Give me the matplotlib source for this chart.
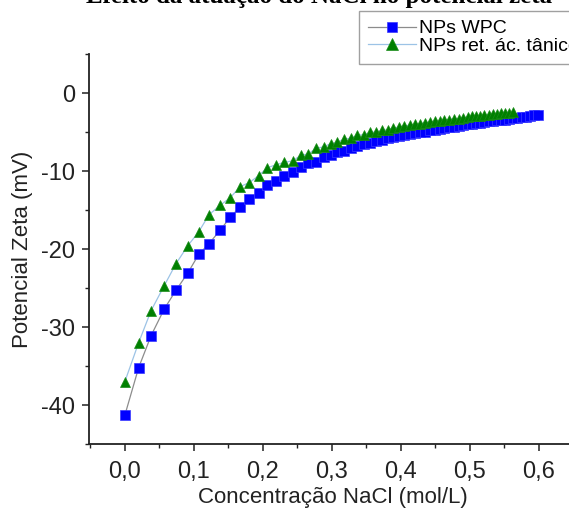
import matplotlib
matplotlib.use("Agg")
import matplotlib.pyplot as plt
from matplotlib.ticker import MultipleLocator

plt.rcParams['font.family'] = ['Liberation Sans', 'DejaVu Sans']

# ---- data ----
x_wpc = [0.000, 0.020, 0.038, 0.057, 0.074, 0.091, 0.107, 0.122, 0.138, 0.153,
         0.167, 0.180, 0.194, 0.206, 0.219, 0.231, 0.243, 0.255, 0.266, 0.277,
         0.288, 0.298, 0.308, 0.318, 0.328, 0.337, 0.346, 0.355, 0.364, 0.373,
         0.381, 0.389, 0.397, 0.405, 0.413, 0.421, 0.428, 0.435, 0.442, 0.449,
         0.456, 0.463, 0.470, 0.477, 0.484, 0.490, 0.497, 0.503, 0.509, 0.515,
         0.521, 0.527, 0.533, 0.539, 0.545, 0.551, 0.557, 0.563, 0.569, 0.575,
         0.581, 0.587, 0.593, 0.599]
y_wpc = [-41.3, -35.2, -31.1, -27.7, -25.3, -23.1, -20.7, -19.3, -17.6, -15.9,
         -14.6, -13.6, -12.8, -11.8, -11.3, -10.6, -10.1, -9.5, -9.0, -8.8,
         -8.2, -8.0, -7.5, -7.4, -7.0, -6.8, -6.5, -6.4, -6.1, -6.05,
         -5.8, -5.7, -5.5, -5.4, -5.2, -5.15, -5.0, -4.95, -4.8, -4.75,
         -4.6, -4.55, -4.4, -4.35, -4.2, -4.15, -4.0, -3.95, -3.85, -3.8,
         -3.7, -3.65, -3.55, -3.5, -3.45, -3.4, -3.3, -3.25, -3.2, -3.1,
         -3.05, -2.95, -2.85, -2.8]

x_tan = [0.000, 0.020, 0.038, 0.057, 0.074, 0.091, 0.107, 0.122, 0.138, 0.153,
         0.167, 0.180, 0.194, 0.206, 0.219, 0.231, 0.243, 0.255, 0.266, 0.277,
         0.288, 0.298, 0.308, 0.318, 0.328, 0.337, 0.346, 0.355, 0.364, 0.373,
         0.381, 0.389, 0.397, 0.405, 0.413, 0.421, 0.428, 0.435, 0.442, 0.449,
         0.456, 0.463, 0.470, 0.477, 0.484, 0.490, 0.497, 0.503, 0.509, 0.515,
         0.521, 0.527, 0.533, 0.539, 0.545, 0.551, 0.557, 0.563]
y_tan = [-37.0, -32.0, -27.9, -24.7, -21.9, -19.6, -17.8, -15.6, -14.4, -13.4,
         -12.0, -11.5, -10.6, -9.6, -9.2, -8.9, -8.7, -8.0, -7.8, -7.1,
         -6.9, -6.5, -6.3, -5.9, -5.8, -5.4, -5.35, -5.05, -5.0, -4.8,
         -4.7, -4.45, -4.4, -4.2, -4.15, -4.0, -3.95, -3.8, -3.75, -3.65,
         -3.6, -3.45, -3.4, -3.3, -3.3, -3.15, -3.1, -3.0, -2.95, -2.9,
         -2.85, -2.8, -2.7, -2.65, -2.6, -2.55, -2.5, -2.45]

xticks = [0.0, 0.1, 0.2, 0.3, 0.4, 0.5, 0.6]
xtick_labels = ["0,0", "0,1", "0,2", "0,3", "0,4", "0,5", "0,6"]
yticks = [0, -10, -20, -30, -40]
ytick_labels = ["0", "-10", "-20", "-30", "-40"]

label_wpc = "NPs WPC"
label_tan = "NPs ret. ác. tânico"
xlabel = "Concentração NaCl (mol/L)"
ylabel = "Potencial Zeta (mV)"
title_text = "Efeito da atuação do NaCl no potencial zeta"

# ---- figure ----
W, H = 569, 516
fig = plt.figure(figsize=(W / 100, H / 100), dpi=100)
ax_left, ax_bottom = 89 / W, (H - 444) / H
ax_h = (444 - 54) / H
ax_w = 520 / W
ax = fig.add_axes([ax_left, ax_bottom, ax_w, ax_h])

ax.plot(x_wpc, y_wpc, '-', color='#8c8c8c', lw=0.9, marker='s', ms=6.5,
        mfc='#0000ff', mec='#3a3aff', mew=0.5, label=label_wpc, zorder=3)
ax.plot(x_tan, y_tan, '-', color='#9cc3e6', lw=0.9, marker='^', ms=7.5,
        mfc='#008000', mec='#1a8c1a', mew=0.5, label=label_tan, zorder=4)

ax.set_xlim(-0.052, -0.052 + 520 / 690)
ax.set_ylim(-45, 5)
ax.set_xticks(xticks)
ax.set_xticklabels(xtick_labels)
ax.set_yticks(yticks)
ax.set_yticklabels(ytick_labels)
ax.xaxis.set_minor_locator(MultipleLocator(0.05))
ax.yaxis.set_minor_locator(MultipleLocator(5))

for s in ['top', 'right']:
    ax.spines[s].set_visible(False)
for s in ['left', 'bottom']:
    ax.spines[s].set_linewidth(1.3)
    ax.spines[s].set_color('#222222')

ax.tick_params(axis='both', which='major', direction='out', length=5, width=1.1,
               labelsize=17, colors='#222222', pad=5)
ax.tick_params(axis='both', which='minor', direction='out', length=3, width=1.0,
               colors='#222222')
ax.tick_params(axis='x', pad=7)

ax.set_xlabel(xlabel, fontsize=16, color='#222222')
ax.set_ylabel(ylabel, fontsize=16, color='#222222', labelpad=6)
ax.xaxis.set_label_coords((333 - 89) / 520, -(498 - 444) / 390, transform=ax.transAxes)
ax.xaxis.label.set_va('center')

leg = fig.legend(loc='upper left', bbox_to_anchor=(359 / W, 1 - 11 / H),
                 fontsize=14, frameon=True, fancybox=False, borderpad=0.45,
                 handlelength=2.5, handletextpad=0.15, labelspacing=0.0,
                 borderaxespad=0, markerscale=1.1)
leg.get_frame().set_edgecolor('#888888')
leg.get_frame().set_linewidth(1.0)

fig.text(552 / W, 1 - 3 / H, title_text, ha='right', va='baseline',
         fontsize=18, fontweight='bold', family='Liberation Serif')

fig.savefig('out.png', dpi=100)
